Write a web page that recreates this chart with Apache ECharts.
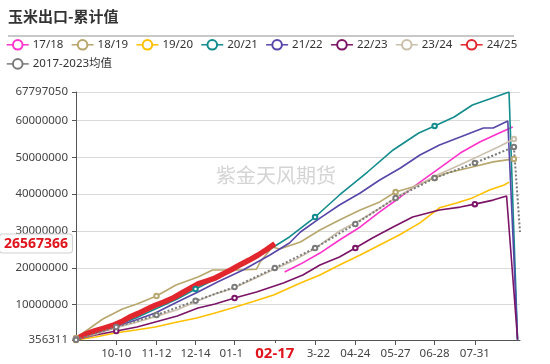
<!DOCTYPE html>
<html><head><meta charset="utf-8">
<script src="https://cdn.jsdelivr.net/npm/echarts@6/dist/echarts.min.js"></script>
<style>html,body{margin:0;padding:0;background:#fff}#c{width:550px;height:364px}</style>
</head><body><div id="c"></div>
<script>
const TITLE = '玉米出口-累计值';
const WATERMARK = '紫金天风期货';
const SERIES_NAMES = ['17/18','18/19','19/20','20/21','21/22','22/23','23/24','24/25','2017-2023均值'];
const COLORS = ['#ff33cc','#b8a76c','#ffc000','#138c8e','#5846a8','#7b1466','#cbbfab','#e2262d','#7a7a7a'];
const TICK_LABELS = ['10-10','11-12','12-14','01-15','02-17','03-22','04-24','05-27','06-28','07-31'];
const MARKER_ONLY_DATES = ['09-07','09-01'];
const FIRST_DAY = [2022, 8, 7];   // axis runs daily from 09-07 for one year
const DAY_COUNT = 365;

const S17_18 = [['02-25',18850000],['03-10',21000000],['03-26',24000000],['04-11',27550000],['04-28',31090000],['05-14',35200000],['05-31',39250000],['06-16',43300000],['07-02',47100000],['07-19',51200000],['08-04',54200000],['08-20',56650000],['08-31',58300000]];
const S18_19 = [['09-07',900000],['09-29',6070000],['10-15',8790000],['10-27',10150000],['11-12',12320000],['11-28',15310000],['12-16',17490000],['12-28',19390000],['01-19',19390000],['02-02',19600000],['02-05',21570000],['02-15',25650000],['02-21',25100000],['03-10',27000000],['03-26',30270000],['04-11',33000000],['04-28',35710000],['05-14',37900000],['05-27',40600000],['06-10',41970000],['06-28',44400000],['07-08',45770000],['07-29',47400000],['08-15',48800000],['09-01',49600000]];
const S19_20 = [['09-07',356311],['09-23',1170000],['10-09',2260000],['10-26',3080000],['11-11',3890000],['11-29',5250000],['12-15',6340000],['12-30',7700000],['01-13',9060000],['01-31',10900000],['02-16',12600000],['03-10',15860000],['03-26',18030000],['04-11',20750000],['04-28',23470000],['05-14',26190000],['05-30',28910000],['06-16',32200000],['07-02',36300000],['07-16',37600000],['07-29',39000000],['08-12',41150000],['08-24',42500000],['08-28',43300000]];
const S20_21 = [['09-07',500000],['09-23',2260000],['10-09',4160000],['10-26',6340000],['11-11',8790000],['11-29',11510000],['12-14',14230000],['01-01',17220000],['01-19',20480000],['02-08',24020000],['03-01',28370000],['03-22',33800000],['04-11',39790000],['05-04',46040000],['05-25',52030000],['06-15',56650000],['06-28',58560000],['07-14',61000000],['07-29',64270000],['08-12',65900000],['08-28',67797050],['09-04',450000]];
const S21_22 = [['09-07',500000],['09-23',2000000],['10-09',3890000],['10-26',5800000],['11-11',7700000],['11-29',10690000],['12-16',13410000],['01-01',16130000],['01-22',19390000],['02-13',23470000],['03-01',26740000],['03-10',29730000],['03-26',33500000],['04-11',37070000],['04-28',40330000],['05-14',43870000],['05-31',47130000],['06-16',50670000],['07-02',53390000],['07-19',55560000],['08-07',58010000],['08-15',58010000],['08-27',59900000],['09-04',400000]];
const S22_23 = [['09-07',500000],['09-23',1720000],['10-10',2800000],['10-27',3890000],['11-11',5250000],['11-29',6880000],['12-16',9060000],['12-30',10150000],['01-15',11780000],['02-02',13410000],['02-24',15860000],['03-12',18030000],['03-26',20750000],['04-11',22930000],['04-24',25370000],['05-08',28100000],['05-25',31090000],['06-10',33800000],['07-02',35700000],['07-19',36500000],['07-31',37300000],['08-15',38400000],['08-26',39500000],['09-04',550000]];
const S23_24 = [['09-07',500000],['09-23',1900000],['10-09',3600000],['10-26',5100000],['11-11',6700000],['11-29',8600000],['12-16',11000000],['12-30',12900000],['01-13',14300000],['01-31',17000000],['02-16',19500000],['03-06',22200000],['03-21',25000000],['04-11',30000000],['04-28',33000000],['05-14',36200000],['05-30',39600000],['06-16',42800000],['07-02',45500000],['07-19',48000000],['08-04',50500000],['08-20',53000000],['09-01',55000000]];
const S24_25 = [['09-09',1000000],['09-16',2100000],['09-23',2900000],['09-30',3600000],['10-07',4300000],['10-14',5300000],['10-21',6600000],['10-28',7600000],['11-04',8700000],['11-11',9800000],['11-18',10700000],['11-25',11700000],['12-02',13000000],['12-09',14300000],['12-16',15600000],['12-23',16400000],['12-30',17200000],['01-06',18400000],['01-13',19600000],['01-20',20900000],['01-27',22100000],['02-03',23400000],['02-10',24900000],['02-17',26567366]];
const AVG = [['09-07',400000],['10-10',3890000],['11-12',7150000],['12-14',11000000],['01-15',14770000],['02-17',19940000],['03-22',25370000],['04-24',31900000],['05-27',38970000],['06-28',44400000],['07-31',48500000],['09-01',52850000],['09-06',29730000]];

const ALL = [S17_18,S18_19,S19_20,S20_21,S21_22,S22_23,S23_24,S24_25,AVG];

const pad = n => (n < 10 ? '0' : '') + n;
const CATEGORIES = [];
for (let i = 0; i < DAY_COUNT; i++) {
  const d = new Date(FIRST_DAY[0], FIRST_DAY[1], FIRST_DAY[2] + i);
  CATEGORIES.push(pad(d.getMonth() + 1) + '-' + pad(d.getDate()));
}
const markerSet = new Set(TICK_LABELS.concat(MARKER_ONLY_DATES));
const labelSet = new Set(TICK_LABELS);
const lastRed = S24_25[S24_25.length - 1];

const FONT = 'Noto Sans, Noto Sans CJK SC, sans-serif';
const series = ALL.map((d, i) => {
  const isRed = i === 7, isAvg = i === 8;
  const data = d.map((p, k) => (isRed && k === d.length - 1) ? { value: p, symbol: 'none' } : p);
  return {
    name: SERIES_NAMES[i], type: 'line', data,
    symbol: 'emptyCircle', symbolSize: 4.5, showSymbol: true, showAllSymbol: 'auto',
    lineStyle: { width: isRed ? 5.5 : (isAvg ? 2 : 1.6), color: COLORS[i], type: isAvg ? 'dotted' : 'solid' },
    itemStyle: { color: COLORS[i], borderWidth: 1.2 },
    emphasis: { disabled: true }, animation: false
  };
});

const chart = echarts.init(document.getElementById('c'), null, { renderer: 'canvas' });
chart.setOption({
  animation: false,
  backgroundColor: '#fff',
  title: { text: TITLE, left: 8, top: 9, padding: 0,
    textStyle: { fontSize: 15, fontWeight: 'bold', color: '#333', fontFamily: 'Noto Sans CJK SC' } },
  graphic: [
    { type: 'line', shape: { x1: 8, y1: 36, x2: 514, y2: 36 }, style: { stroke: '#c8c8c8', lineWidth: 2 }, silent: true },
    { type: 'text', x: 276, y: 175, silent: true, z: 0,
      style: { text: WATERMARK, fill: '#d4d4d4', font: '20px Noto Sans CJK SC', align: 'center', verticalAlign: 'middle', textAlign: 'center', textVerticalAlign: 'middle' } }
  ],
  legend: {
    left: 6, right: 5, top: 39, itemWidth: 22, itemHeight: 12, itemGap: 7.5, padding: 0,
    data: SERIES_NAMES,
    lineStyle: { width: 1.5, type: 'solid' },
    textStyle: { fontSize: 11.5, color: '#333', fontFamily: FONT, padding: [0, 0, 0, -1] }
  },
  grid: { left: 76, right: 30, top: 92, bottom: 24, containLabel: false },
  xAxis: {
    type: 'category', data: CATEGORIES, boundaryGap: false,
    axisLine: { lineStyle: { color: '#555', width: 1 } },
    axisTick: { length: 5, lineStyle: { color: '#555' }, interval: (idx, name) => labelSet.has(name) },
    axisLabel: { interval: (idx, name) => markerSet.has(name), formatter: v => labelSet.has(v) ? v : '',
      fontSize: 11.5, color: '#444', fontFamily: FONT, margin: 8 },
    splitLine: { show: false },
    axisPointer: { show: true, status: 'show', value: CATEGORIES.indexOf(lastRed[0]), type: 'line', triggerTooltip: false,
      lineStyle: { opacity: 0 },
      label: { show: true, color: '#e0141c', fontWeight: 'bold', fontSize: 15, fontFamily: FONT,
        backgroundColor: '#fff', padding: [3, 13], margin: 3, borderWidth: 0, shadowBlur: 0 } }
  },
  yAxis: {
    type: 'value', min: 'dataMin', max: 'dataMax',
    axisLine: { show: true, lineStyle: { color: '#555', width: 1 } },
    axisTick: { show: true, length: 4, lineStyle: { color: '#555' } },
    axisLabel: { formatter: v => String(Math.round(v)), fontSize: 11.5, color: '#444', fontFamily: FONT, margin: 8 },
    splitLine: { lineStyle: { color: '#d9d9d9', width: 1 } },
    axisPointer: { show: true, status: 'show', value: lastRed[1], type: 'line', triggerTooltip: false,
      lineStyle: { opacity: 0 },
      label: { show: true, formatter: p => String(Math.round(p.value)), color: '#e0141c', fontWeight: 'bold', fontSize: 14, fontFamily: FONT,
        backgroundColor: '#fff', borderColor: '#d0d0d0', borderWidth: 1, padding: [2, 4], margin: 4, shadowBlur: 0 } }
  },
  series
});
</script></body></html>
